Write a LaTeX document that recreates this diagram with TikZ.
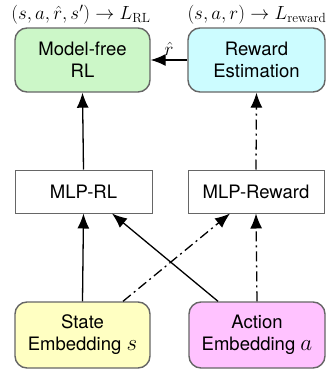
\RequirePackage{fix-cm}
\documentclass[tikz,border=0pt]{standalone}
\usepackage[no-math]{fontspec}
\setmainfont{TeX Gyre Heros}
\usetikzlibrary{arrows.meta}
\definecolor{cgreen}{HTML}{CCF7C8}
\definecolor{ccyan}{HTML}{CCFCFF}
\definecolor{cyellow}{HTML}{FFFFC2}
\definecolor{cpink}{HTML}{FFC2FF}
\definecolor{cborder}{HTML}{666666}
\newcommand{\embvar}[1]{{\fontsize{23}{22}\selectfont$#1$}}
\tikzset{
  rbox/.style={draw=cborder, line width=1.4pt, rounded corners=12pt, align=center,
    inner sep=0pt, font=\fontsize{18.5}{22}\selectfont},
  sbox/.style={draw=cborder, line width=1pt, align=center, inner sep=0pt,
    font=\fontsize{18.5}{22}\selectfont},
  arr/.style={line width=1.3pt, -{Latex[length=15pt,width=12pt]}},
  dd/.style={arr, dash pattern=on 10pt off 4pt on 2pt off 4pt},
  lab/.style={font=\fontsize{19}{22}\selectfont, inner sep=0pt}
}
\begin{document}
\begin{tikzpicture}[x=1pt,y=-1pt]
\useasboundingbox (0,0) rectangle (332,375);
\node[rbox, fill=cgreen, minimum width=135pt, minimum height=64pt] (mf) at (82.5,60) {Model-free\\RL};
\node[rbox, fill=ccyan, minimum width=137pt, minimum height=64pt] (re) at (256.5,60) {Reward\\Estimation};
\node[sbox, minimum width=137pt, minimum height=43pt] (mlprl) at (83.5,191.5) {MLP-RL};
\node[sbox, minimum width=136pt, minimum height=43pt] (mlprw) at (256,191.5) {MLP-Reward};
\node[rbox, fill=cyellow, minimum width=135pt, minimum height=66pt] (st) at (82.5,335) {State\\Embedding \embvar{s}};
\node[rbox, fill=cpink, minimum width=136pt, minimum height=66pt] (ac) at (257,335) {Action\\Embedding \embvar{a}};
\node[lab] (lrl) at (81,15) {$(s,a,\hat r,s')\to L_{\mathrm{RL}}$};
\node[lab] (lrw) at (257,15) {$(s,a,r)\to L_{\mathrm{reward}}$};
\draw[arr] (mlprl.north) -- (mf.south);
\draw[dd] (mlprw.north) -- (re.south);
\draw[arr] (re.west) -- node[above=4pt, lab] (rh) {$\hat r$} (mf.east);
\draw[arr] (st.north) -- (mlprl.south);
\draw[arr] ([xshift=-39pt]ac.north) -- ([xshift=28.5pt]mlprl.south);
\draw[dd] ([xshift=40.5pt]st.north) -- ([xshift=-26pt]mlprw.south);
\draw[dd] (ac.north) -- (mlprw.south);
\end{tikzpicture}
\end{document}
